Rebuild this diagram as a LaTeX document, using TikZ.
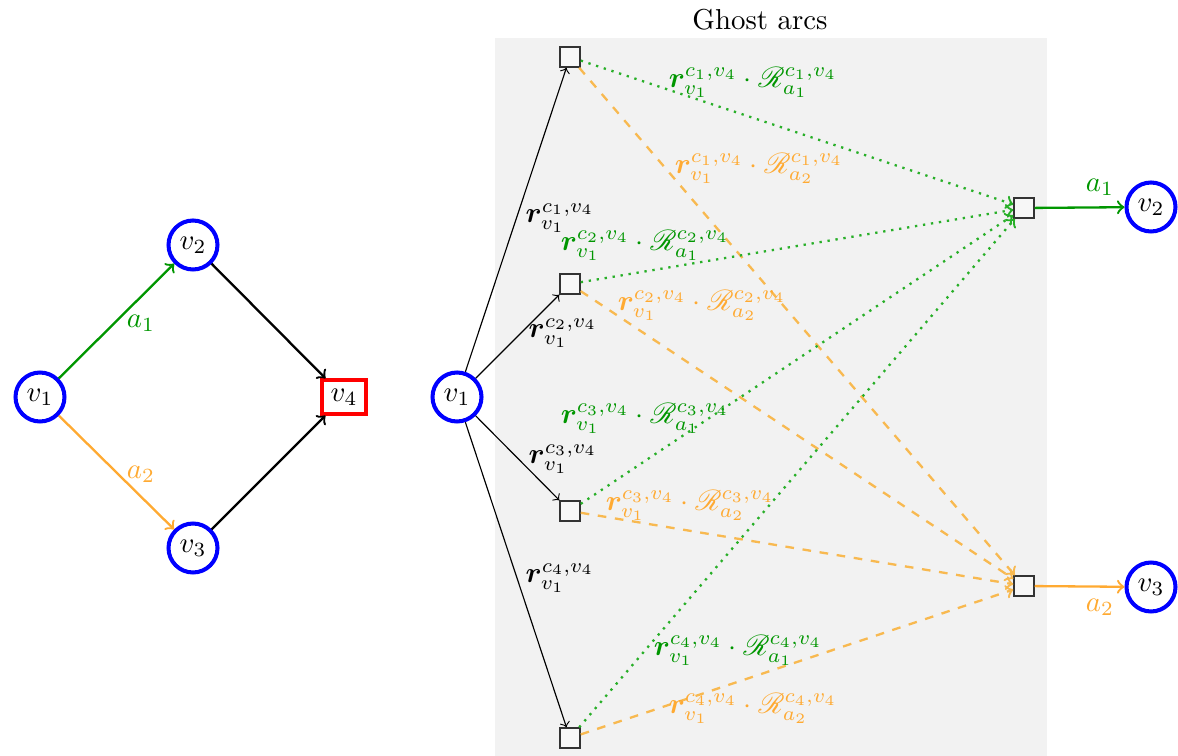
\documentclass[tikz,border=0pt]{standalone}
\usepackage{amsmath,bm,mathrsfs}
\definecolor{cgreen}{RGB}{0,150,0}
\definecolor{cgreenlt}{RGB}{40,175,40}
\definecolor{corange}{RGB}{255,170,50}
\definecolor{corangelt}{RGB}{248,185,80}
\definecolor{bgray}{RGB}{242,242,242}
\tikzset{
  vtx/.style={circle, draw=blue, line width=1.4pt, minimum size=17pt, inner sep=0pt},
  sinkbox/.style={rectangle, draw=red, line width=1.4pt, minimum width=15.5pt, minimum height=11.5pt, inner sep=0pt},
  ghostbox/.style={rectangle, draw=black!80, line width=0.45pt, fill=white!97!black, minimum size=7pt, inner sep=0pt},
  arcA/.style={->, thick, cgreen},
  arcB/.style={->, thick, corange},
  plain/.style={->, thick, black},
  split/.style={->, line width=0.4pt, black},
  gA/.style={->, thick, dotted, cgreenlt},
  gB/.style={->, thick, dashed, corangelt},
  lblA/.style={text=cgreen},
  lblB/.style={text=corange},
}
\begin{document}
\begin{tikzpicture}[x=0.347pt,y=-0.347pt]
\useasboundingbox (0,0) rectangle (1178,756);
\fill[bgray] (495,38) rectangle (1047,756);
\node (title) at (760,20) {Ghost arcs};

% left graph
\node[vtx] (L1) at (40,397) {$v_1$};
\node[vtx] (L2) at (193,245) {$v_2$};
\node[vtx] (L3) at (193,548) {$v_3$};
\node[sinkbox] (L4) at (344,397) {$v_4$};
\draw[arcA] (L1) -- (L2);
\draw[arcB] (L1) -- (L3);
\draw[plain] (L2) -- (L4);
\draw[plain] (L3) -- (L4);
\node[lblA] (la1) at (141,323) {$a_1$};
\node[lblB] (la2) at (141,474) {$a_2$};

% right graph
\node[vtx] (R1) at (457,397) {$v_1$};
\node[ghostbox] (c1) at (570,57) {};
\node[ghostbox] (c2) at (570,284) {};
\node[ghostbox] (c3) at (570,511) {};
\node[ghostbox] (c4) at (570,738) {};
\node[ghostbox] (t1) at (1024,208) {};
\node[ghostbox] (t2) at (1024,586) {};
\node[vtx] (R2) at (1151,207) {$v_2$};
\node[vtx] (R3) at (1151,587) {$v_3$};

\foreach \c in {c1,c2,c3,c4} {
  \draw[split] (R1) -- (\c);
}
\foreach \c in {c1,c2,c3,c4} {
  \draw[gB] (\c) -- (t2);
}
\foreach \c in {c1,c2,c3,c4} {
  \draw[gA] (\c) -- (t1);
}
\draw[arcA] (t1) -- (R2);
\draw[arcB] (t2) -- (R3);
\node[lblA] (ra1) at (1100,187) {$a_1$};
\node[lblB] (ra2) at (1100,607) {$a_2$};

% split labels
\node (s1) at (560,218) {$\bm{r}_{v_1}^{c_1,v_4}$};
\node (s2) at (563,333) {$\bm{r}_{v_1}^{c_2,v_4}$};
\node (s3) at (563,459) {$\bm{r}_{v_1}^{c_3,v_4}$};
\node (s4) at (560,578) {$\bm{r}_{v_1}^{c_4,v_4}$};

% ghost labels
\node[lblA] (g1) at (753,82) {$\bm{r}_{v_1}^{c_1,v_4}\cdot\mathscr{R}_{a_1}^{c_1,v_4}$};
\node[lblB] (o1) at (759,168) {$\bm{r}_{v_1}^{c_1,v_4}\cdot\mathscr{R}_{a_2}^{c_1,v_4}$};
\node[lblA] (g2) at (645,245) {$\bm{r}_{v_1}^{c_2,v_4}\cdot\mathscr{R}_{a_1}^{c_2,v_4}$};
\node[lblB] (o2) at (702,305) {$\bm{r}_{v_1}^{c_2,v_4}\cdot\mathscr{R}_{a_2}^{c_2,v_4}$};
\node[lblA] (g3) at (645,418) {$\bm{r}_{v_1}^{c_3,v_4}\cdot\mathscr{R}_{a_1}^{c_3,v_4}$};
\node[lblB] (o3) at (690,505) {$\bm{r}_{v_1}^{c_3,v_4}\cdot\mathscr{R}_{a_2}^{c_3,v_4}$};
\node[lblA] (g4) at (738,650) {$\bm{r}_{v_1}^{c_4,v_4}\cdot\mathscr{R}_{a_1}^{c_4,v_4}$};
\node[lblB] (o4) at (753,708) {$\bm{r}_{v_1}^{c_4,v_4}\cdot\mathscr{R}_{a_2}^{c_4,v_4}$};
\end{tikzpicture}
\end{document}
